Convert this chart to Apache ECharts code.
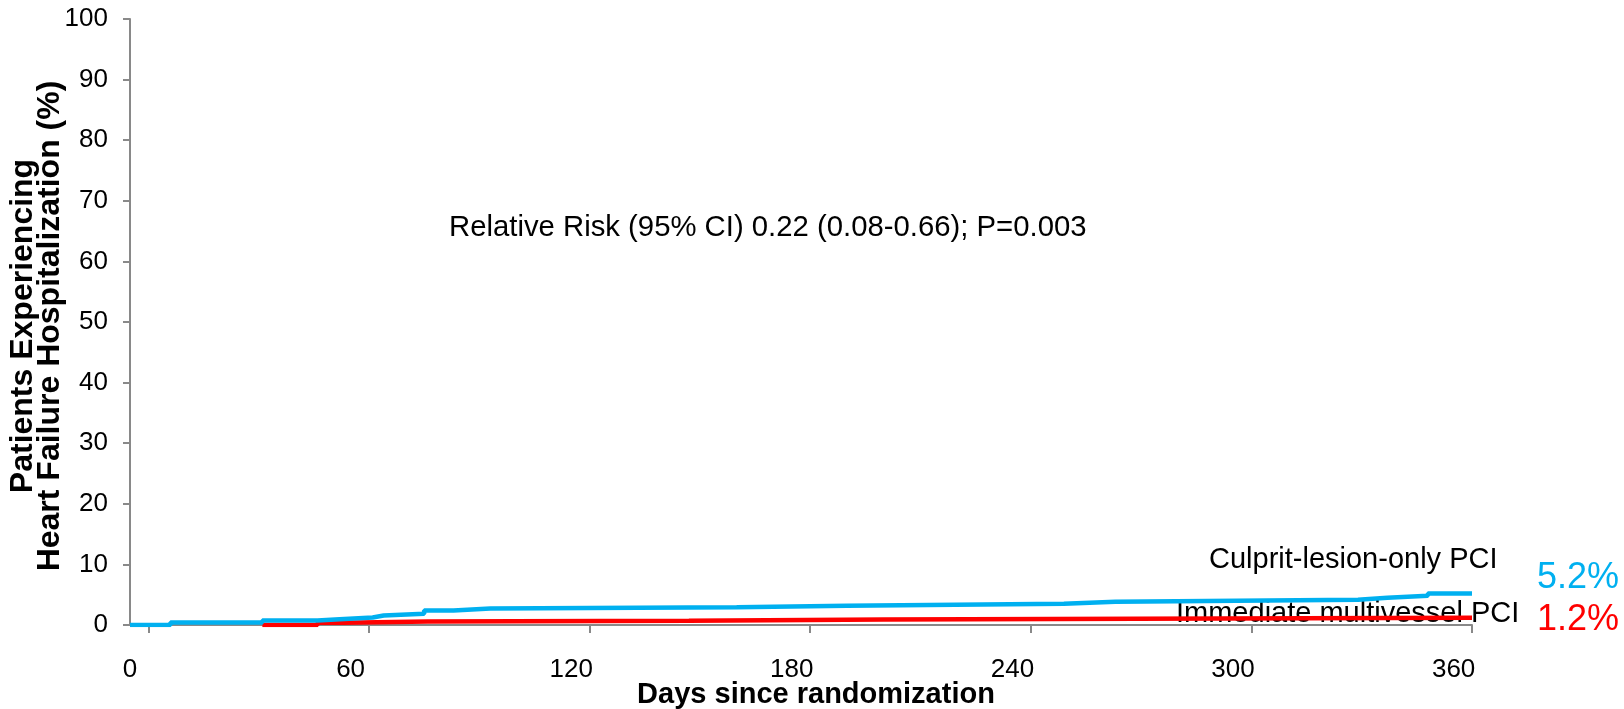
<!DOCTYPE html>
<html>
<head>
<meta charset="utf-8">
<script src="https://cdn.jsdelivr.net/npm/echarts@6/dist/echarts.min.js"></script>
<style>
html,body{margin:0;padding:0;background:#fff;}
#chart{width:1624px;height:709px;}
</style>
</head>
<body>
<div id="chart"></div>
<script>
// Kaplan-Meier style step data: [day, cumulative %]
const culpritDays   = [0, 11, 36, 51, 57, 66, 69, 80, 88, 98, 165, 195, 254, 268, 334, 342, 353, 365];
const culpritValues = [0, 0.4, 0.74, 0.96, 1.24, 1.57, 1.85, 2.39, 2.72, 2.94, 3.17, 3.5, 3.83, 4.16, 4.49, 4.82, 5.2, 5.2];
const multiDays     = [36, 51, 58, 81, 152, 205, 365];
const multiValues   = [0, 0.36, 0.58, 0.7, 0.9, 1.2, 1.2];
const xTickLabels   = [0, 60, 120, 180, 240, 300, 360];
const yTickLabels   = [0, 10, 20, 30, 40, 50, 60, 70, 80, 90, 100];
const seriesNames   = ['Culprit-lesion-only PCI', 'Immediate multivessel PCI'];
const finalLabels   = ['5.2%', '1.2%'];
const annotation    = 'Relative Risk (95% CI) 0.22 (0.08-0.66); P=0.003';

const FONT = '"Liberation Sans", Arial, Helvetica, sans-serif';
const BLUE = '#00B0F0', RED = '#FF0000', AXIS = '#898989';

const pair = (xs, ys) => xs.map((x, i) => [x, ys[i]]);

const chart = echarts.init(document.getElementById('chart'), null, {renderer: 'canvas'});
chart.setOption({
  animation: false,
  backgroundColor: '#fff',
  grid: {left: 130, right: 152, top: 19, bottom: 84, containLabel: false, outerBoundsMode: 'none'},
  xAxis: {
    type: 'value', min: 0, max: 365,
    name: 'Days since randomization',
    nameLocation: 'middle', nameGap: 55, nameMoveOverlap: false,
    nameTextStyle: {fontFamily: FONT, fontSize: 29, fontWeight: 'bold', color: '#000', padding: [0, 0, 0, 30]},
    axisLine: {show: true, lineStyle: {color: AXIS, width: 2}},
    axisTick: {show: true, length: 8, lineStyle: {color: AXIS, width: 2}, customValues: xTickLabels.map(v => v + 5)},
    axisLabel: {fontFamily: FONT, fontSize: 26, color: '#000', margin: 32, customValues: xTickLabels},
    splitLine: {show: false}
  },
  yAxis: {
    type: 'value', min: 0, max: 100, interval: 10,
    axisLine: {show: true, lineStyle: {color: AXIS, width: 2}},
    axisTick: {show: true, length: 7, lineStyle: {color: AXIS, width: 2}},
    axisLabel: {fontFamily: FONT, fontSize: 26, color: '#000', margin: 22,
      formatter: (v) => yTickLabels.includes(v) ? String(v) : ''},
    splitLine: {show: false}
  },
  graphic: [
    {type: 'text', x: 37, y: 326, rotation: Math.PI / 2,
     style: {text: 'Patients Experiencing\nHeart Failure Hospitalization (%)', font: 'bold 32px ' + FONT,
       fill: '#000', align: 'center', verticalAlign: 'middle', lineHeight: 27}},
    {type: 'text', x: 449, y: 228,
     style: {text: annotation, font: '29.3px ' + FONT, fill: '#000', align: 'left', verticalAlign: 'middle'}},
    {type: 'text', x: 1209, y: 560,
     style: {text: seriesNames[0], font: '29px ' + FONT, fill: '#000', align: 'left', verticalAlign: 'middle'}},
    {type: 'text', x: 1176, y: 614,
     style: {text: seriesNames[1], font: '29px ' + FONT, fill: '#000', align: 'left', verticalAlign: 'middle'}},
    {type: 'text', x: 1537, y: 578,
     style: {text: finalLabels[0], font: '36px ' + FONT, fill: BLUE, align: 'left', verticalAlign: 'middle'}},
    {type: 'text', x: 1537, y: 620,
     style: {text: finalLabels[1], font: '36px ' + FONT, fill: RED, align: 'left', verticalAlign: 'middle'}}
  ],
  series: [
    {name: seriesNames[1], type: 'line', step: 'end', data: pair(multiDays, multiValues),
     showSymbol: false, lineStyle: {color: RED, width: 4.5}, itemStyle: {color: RED}, z: 2},
    {name: seriesNames[0], type: 'line', step: 'end', data: pair(culpritDays, culpritValues),
     showSymbol: false, lineStyle: {color: BLUE, width: 4.5}, itemStyle: {color: BLUE}, z: 3}
  ]
});
</script>
</body>
</html>
